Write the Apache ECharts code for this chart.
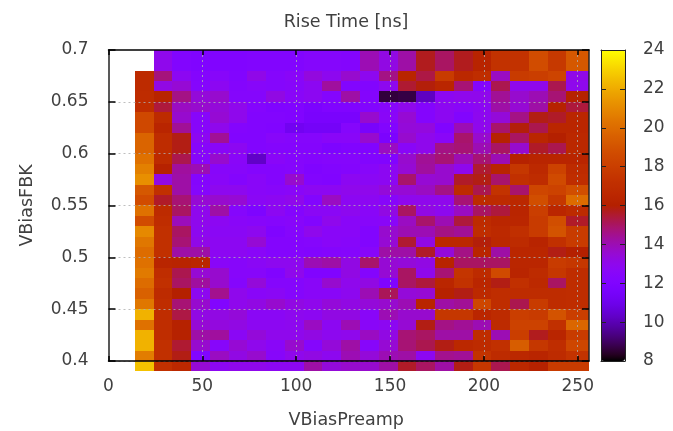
<!DOCTYPE html>
<html>
<head>
<meta charset="utf-8">
<style>
  html, body { margin: 0; padding: 0; background: #fff; }
  #chart { width: 673px; height: 431px; }
</style>
<script src="https://cdn.jsdelivr.net/npm/echarts@6/dist/echarts.min.js"></script>
</head>
<body>
<div id="chart"></div>
<script>
// bin edges of the scan, in axis units
var xEdges = [14, 24, 34, 44, 54, 64, 74, 84, 94, 104, 114, 124, 134, 144, 154, 164, 174, 184, 194, 204, 214, 224, 234, 244, 256];
var yEdges = [0.70, 0.68, 0.67, 0.66, 0.65, 0.64, 0.63, 0.62, 0.61, 0.60, 0.59, 0.58, 0.57, 0.56, 0.55, 0.54, 0.53, 0.52, 0.51, 0.50, 0.49, 0.48, 0.47, 0.46, 0.45, 0.44, 0.43, 0.42, 0.41, 0.40, 0.39];
var xTicks = [0, 50, 100, 150, 200, 250];
var yTicks = [0.4, 0.45, 0.5, 0.55, 0.6, 0.65, 0.7];
var barTicks = [8, 10, 12, 14, 16, 18, 20, 22, 24];

// rise time per row, top row first
var riseTime = [
  [null, 13.0, 12.2, 12.0, 12.1, 12.1, 12.2, 12.2, 12.2, 12.4, 12.4, 12.3, 14.0, 13.2, 14.2, 15.7, 15.0, 15.7, 16.3, 17.3, 17.3, 18.7, 17.7, 19.2],
  [16.8, 14.7, 12.8, 12.3, 12.5, 12.2, 13.1, 12.4, 12.6, 13.3, 12.9, 13.6, 12.9, 14.6, 16.4, 15.3, 17.8, 16.6, 17.0, 13.8, 17.8, 18.0, 18.3, 13.1],
  [16.8, 13.2, 13.5, 12.4, 12.8, 12.3, 12.5, 12.4, 12.5, 12.8, 14.3, 12.2, 12.2, 12.9, 15.5, 15.9, 16.5, 14.8, 12.3, 15.2, 13.0, 13.0, 15.2, 13.0],
  [16.9, 16.3, 14.6, 13.4, 13.6, 12.4, 12.4, 13.2, 12.6, 12.8, 12.3, 14.2, 12.3, 8.6, 8.7, 10.2, 12.8, 13.0, 13.0, 14.4, 13.6, 14.0, 14.8, 16.2],
  [17.0, 15.4, 13.8, 13.6, 13.4, 13.0, 12.3, 12.0, 12.1, 11.8, 12.0, 12.0, 12.2, 12.5, 13.0, 12.3, 12.8, 12.6, 12.8, 14.2, 13.5, 14.2, 16.2, 15.4],
  [18.5, 16.8, 13.6, 12.5, 13.5, 13.0, 12.2, 12.2, 12.1, 11.7, 11.7, 11.7, 13.6, 12.6, 13.5, 12.3, 12.8, 12.2, 12.9, 13.4, 14.6, 15.8, 15.6, 16.5],
  [18.5, 16.4, 14.4, 12.5, 13.0, 12.3, 12.2, 12.1, 11.2, 11.4, 11.4, 12.4, 11.6, 12.2, 13.4, 13.3, 12.1, 14.0, 13.0, 14.9, 15.9, 15.2, 16.5, 16.5],
  [19.7, 16.9, 15.8, 12.8, 14.4, 12.2, 12.2, 12.5, 12.4, 12.4, 12.6, 12.6, 13.6, 11.8, 13.6, 13.0, 12.6, 14.9, 13.6, 16.2, 15.0, 16.5, 16.0, 16.6],
  [19.7, 16.9, 15.8, 12.5, 12.6, 12.8, 12.2, 12.3, 12.3, 12.3, 11.9, 12.1, 12.1, 13.8, 12.6, 13.0, 14.6, 14.8, 14.0, 15.0, 13.6, 15.6, 15.2, 16.6],
  [20.2, 16.8, 15.2, 12.5, 13.6, 12.6, 10.3, 12.6, 12.4, 12.3, 12.4, 12.4, 12.2, 12.1, 13.6, 14.4, 14.8, 14.0, 14.8, 14.0, 16.2, 16.4, 16.4, 16.4],
  [20.7, 16.2, 14.3, 14.0, 12.5, 12.5, 12.3, 12.3, 12.4, 12.0, 12.2, 12.3, 12.5, 12.8, 13.5, 14.3, 13.6, 13.0, 15.5, 16.4, 17.6, 16.7, 18.2, 16.8],
  [21.2, 13.2, 14.2, 12.3, 12.6, 12.3, 12.6, 12.3, 13.6, 12.2, 12.1, 12.8, 12.7, 12.8, 14.9, 13.5, 13.6, 15.6, 15.8, 14.9, 17.2, 16.9, 18.6, 17.0],
  [19.2, 17.2, 14.2, 12.4, 12.9, 12.9, 12.6, 12.5, 12.6, 12.8, 12.8, 13.0, 13.0, 13.4, 13.5, 13.8, 14.6, 16.8, 15.2, 17.4, 14.9, 18.4, 18.2, 18.8],
  [18.7, 15.6, 14.8, 13.5, 13.6, 13.5, 12.7, 12.8, 13.0, 12.2, 13.8, 12.8, 12.8, 12.5, 13.0, 13.0, 13.0, 14.8, 16.8, 16.8, 16.6, 18.8, 17.6, 20.0],
  [20.2, 16.8, 15.0, 13.0, 14.2, 12.4, 11.9, 12.8, 12.3, 12.7, 12.7, 12.9, 12.6, 13.2, 15.0, 13.2, 12.9, 13.8, 15.0, 15.4, 16.4, 18.0, 16.5, 16.8],
  [18.7, 17.0, 13.9, 13.0, 12.8, 12.6, 12.5, 12.4, 12.5, 12.2, 13.0, 12.6, 12.5, 12.6, 13.8, 14.9, 14.0, 15.4, 16.8, 16.5, 16.5, 17.8, 18.8, 15.6],
  [21.0, 17.2, 15.0, 12.9, 12.7, 12.7, 12.9, 12.0, 12.4, 13.0, 12.6, 12.6, 12.2, 13.6, 14.0, 14.0, 14.6, 14.4, 17.0, 16.7, 17.1, 17.8, 19.0, 17.8],
  [20.4, 17.2, 14.8, 13.1, 12.8, 12.8, 13.5, 12.3, 12.3, 12.4, 12.6, 12.5, 12.2, 13.5, 15.5, 13.2, 16.6, 16.6, 15.9, 16.6, 16.8, 16.3, 17.2, 17.8],
  [20.0, 17.2, 14.2, 14.2, 12.8, 12.8, 12.6, 12.3, 12.3, 12.2, 12.3, 12.4, 12.5, 14.2, 14.2, 15.6, 13.4, 14.6, 16.4, 14.2, 16.5, 16.5, 15.8, 16.0],
  [20.2, 16.4, 16.3, 16.5, 12.6, 12.5, 12.7, 12.9, 12.9, 14.0, 14.2, 13.2, 14.9, 13.5, 13.4, 13.2, 16.3, 15.0, 15.0, 15.0, 16.5, 16.5, 17.8, 17.6],
  [20.5, 17.0, 15.2, 13.5, 13.6, 12.5, 12.5, 12.1, 13.0, 12.1, 12.1, 13.2, 12.3, 13.5, 15.0, 13.0, 14.8, 17.5, 16.8, 18.6, 16.4, 16.8, 17.6, 17.0],
  [20.0, 17.2, 15.0, 14.3, 13.6, 12.4, 13.4, 12.4, 12.4, 12.6, 13.6, 13.0, 13.2, 12.0, 15.0, 15.4, 16.5, 17.3, 16.5, 15.8, 17.2, 16.7, 15.0, 17.0],
  [19.6, 16.8, 16.0, 12.9, 14.5, 13.0, 12.6, 12.7, 12.4, 12.6, 12.6, 12.9, 14.0, 15.1, 13.4, 13.5, 16.2, 15.8, 16.7, 17.0, 16.9, 16.9, 16.9, 17.0],
  [20.4, 17.0, 14.8, 13.6, 12.2, 13.0, 13.2, 13.6, 13.2, 13.0, 13.4, 13.2, 13.4, 13.6, 14.0, 16.4, 14.2, 14.4, 18.4, 17.0, 15.2, 17.8, 16.9, 17.0],
  [22.2, 17.0, 15.3, 13.2, 13.2, 13.4, 12.7, 12.7, 12.9, 12.8, 13.2, 13.2, 12.6, 14.0, 13.6, 13.6, 17.6, 17.6, 16.5, 16.8, 18.0, 17.8, 19.0, 18.0],
  [20.2, 17.0, 16.2, 13.5, 13.3, 13.2, 12.8, 12.8, 12.9, 13.8, 12.8, 14.0, 12.6, 12.8, 13.5, 15.8, 14.6, 14.4, 14.0, 16.8, 18.2, 18.2, 17.2, 19.8],
  [22.2, 17.0, 16.2, 14.2, 14.3, 12.7, 13.4, 13.0, 13.0, 13.2, 12.9, 13.0, 13.8, 13.2, 14.8, 15.0, 14.2, 14.2, 17.0, 14.0, 18.0, 15.7, 16.4, 17.8],
  [22.2, 17.2, 15.5, 13.6, 12.5, 13.5, 13.0, 12.6, 13.6, 12.4, 13.4, 14.2, 12.5, 13.5, 14.8, 15.2, 15.8, 16.6, 16.8, 17.2, 19.4, 17.6, 17.0, 18.4],
  [20.6, 17.2, 15.8, 12.2, 13.8, 13.2, 13.6, 12.5, 13.0, 13.2, 12.9, 14.0, 13.4, 14.0, 14.2, 12.8, 14.5, 14.4, 17.4, 16.8, 16.6, 16.4, 16.8, 17.4],
  [22.6, 17.2, 16.6, 13.5, 12.8, 13.0, 13.0, 12.8, 12.8, 14.2, 13.4, 13.6, 13.6, 14.2, 15.6, 15.0, 14.2, 15.8, 17.6, 15.2, 16.6, 16.2, 17.8, 17.8]
];

var textColor = '#404040';
var fontName = 'DejaVu Sans';
var gridLine = { type: [2, 3], color: 'rgba(175,175,175,0.8)', width: 1 };

// gnuplot default pm3d palette (rgbformulae 7,5,15)
function paletteColor(g) {
  var r = Math.sqrt(g);
  var gr = g * g * g;
  var b = Math.max(0, Math.sin(2 * Math.PI * g));
  return 'rgb(' + Math.round(r * 255) + ',' + Math.round(gr * 255) + ',' + Math.round(b * 255) + ')';
}
var palette = [];
for (var i = 0; i <= 64; i++) {
  palette.push(paletteColor(i / 64));
}

var cells = [];
riseTime.forEach(function (row, r) {
  row.forEach(function (v, c) {
    if (v === null) return;
    cells.push([xEdges[c], xEdges[c + 1], yEdges[r + 1], yEdges[r], v]);
  });
});

function mainX(extra) {
  return Object.assign({
    type: 'value', gridIndex: 0, min: 0, max: 256, z: 5,
    axisLine: { onZero: false, lineStyle: { color: '#000', width: 1.5 } },
    axisTick: { customValues: xTicks, inside: true, length: 5, lineStyle: { color: '#000', width: 1.5 } },
    axisLabel: { show: false },
    splitLine: { show: false }
  }, extra);
}
function mainY(extra) {
  return Object.assign({
    type: 'value', gridIndex: 0, min: 0.4, max: 0.7, interval: 0.05, z: 5,
    axisLine: { onZero: false, lineStyle: { color: '#222', width: 1.5 } },
    axisTick: { customValues: yTicks, inside: true, length: 7, lineStyle: { color: '#000', width: 1.5 } },
    axisLabel: { show: false },
    splitLine: { show: false }
  }, extra);
}
function barX(pos) {
  return {
    type: 'value', gridIndex: 1, min: 0, max: 1, position: pos, z: 10,
    axisLine: { onZero: false, lineStyle: { color: '#222', width: 1 } },
    axisTick: { show: false }, axisLabel: { show: false }, splitLine: { show: false }
  };
}
function barY(pos, labels) {
  return {
    type: 'value', gridIndex: 1, min: 8, max: 24, interval: 2, position: pos, z: 10,
    axisLine: { onZero: false, lineStyle: { color: '#222', width: 1 } },
    axisTick: { customValues: barTicks, inside: true, length: 5, lineStyle: { color: '#222' } },
    axisLabel: {
      show: labels, customValues: barTicks, margin: 18,
      color: textColor, fontFamily: fontName, fontSize: 17
    },
    splitLine: { show: false }
  };
}

var chart = echarts.init(document.getElementById('chart'), null, { renderer: 'canvas' });
chart.setOption({
  animation: false,
  backgroundColor: '#fff',
  title: {
    text: 'Rise Time [ns]', left: 341, top: 8, textAlign: 'center',
    textStyle: { color: textColor, fontFamily: fontName, fontSize: 17.5, fontWeight: 'normal' }
  },
  grid: [
    { left: 108.5, top: 50, width: 480.5, height: 311, outerBoundsMode: 'none' },
    { left: 601, top: 50, width: 24, height: 311, outerBoundsMode: 'none' }
  ],
  xAxis: [
    mainX({
      position: 'bottom',
      name: 'VBiasPreamp', nameLocation: 'middle', nameGap: 50,
      nameTextStyle: { color: textColor, fontFamily: fontName, fontSize: 17.5, padding: [0, 5, 0, 0] },
      axisLabel: { show: true, customValues: xTicks, margin: 17, color: textColor, fontFamily: fontName, fontSize: 17 },
      splitLine: { show: true, customValues: xTicks, showMinLine: false, lineStyle: gridLine }
    }),
    mainX({ position: 'top' }),
    barX('bottom'),
    barX('top')
  ],
  yAxis: [
    mainY({
      position: 'left',
      name: 'VBiasFBK', nameLocation: 'middle', nameGap: 72,
      nameTextStyle: { color: textColor, fontFamily: fontName, fontSize: 17.5 },
      axisLabel: {
        show: true, customValues: yTicks, margin: 20, color: textColor, fontFamily: fontName, fontSize: 17,
        formatter: function (v) { return String(+v.toFixed(2)); }
      },
      splitLine: { show: true, showMaxLine: false, lineStyle: gridLine }
    }),
    mainY({ position: 'right' }),
    barY('left', false),
    barY('right', true)
  ],
  visualMap: {
    type: 'continuous', seriesIndex: 0, dimension: 4,
    min: 8, max: 24, calculable: false, hoverLink: false,
    left: 601, top: 50, itemWidth: 24, itemHeight: 311, padding: 0,
    text: ['', ''], showLabel: false,
    inRange: { color: palette }
  },
  series: [{
    type: 'custom',
    coordinateSystem: 'cartesian2d',
    xAxisIndex: 0,
    yAxisIndex: 0,
    encode: { x: [0, 1], y: [2, 3] },
    clip: false,
    silent: true,
    renderItem: function (params, api) {
      var p0 = api.coord([api.value(0), api.value(3)]);
      var p1 = api.coord([api.value(1), api.value(2)]);
      var x = Math.round(p0[0]);
      var y = Math.round(p0[1]);
      return {
        type: 'rect',
        shape: { x: x, y: y, width: Math.round(p1[0]) - x, height: Math.round(p1[1]) - y },
        style: { fill: api.visual('color') }
      };
    },
    data: cells
  }]
});
</script>
</body>
</html>
